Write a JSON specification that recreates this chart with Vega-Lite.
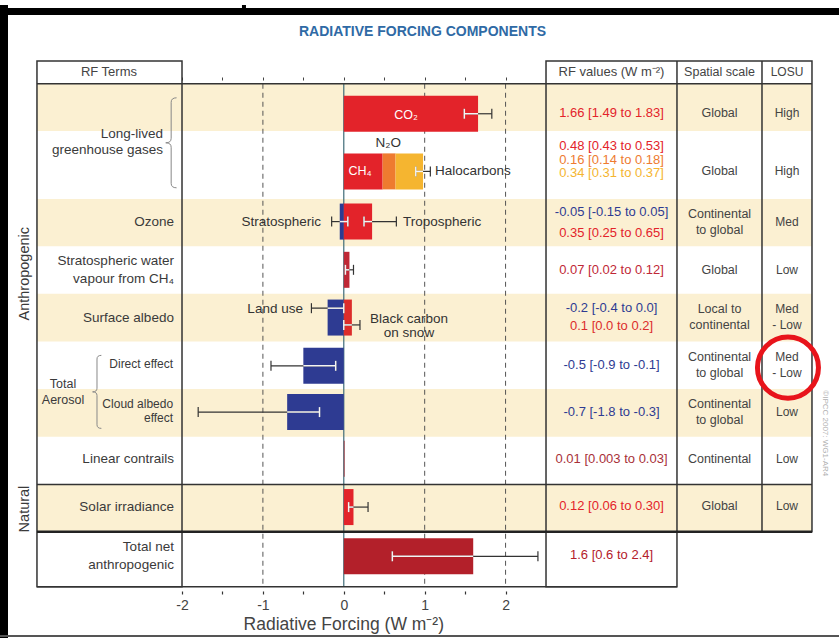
{
"$schema": "https://vega.github.io/schema/vega-lite/v6.json",
"width": 839,
"height": 643,
"autosize": {"type": "fit", "contains": "padding"},
"padding": 0,
"background": "white",
"config": {"view": {"stroke": null}, "text": {"font": "Liberation Sans"}, "axis": {"labelFont": "Liberation Sans"}},
"resolve": {"axis": {"x": "independent"}},
"datasets": {
"bands": [
{"row": "CO2", "top": 0, "bottom": 0.994},
{"row": "Ozone", "top": 2.422, "bottom": 3.416},
{"row": "Surface albedo", "top": 4.418, "bottom": 5.42},
{"row": "Cloud albedo", "top": 6.422, "bottom": 7.424},
{"row": "Solar irradiance", "top": 8.427, "bottom": 9.42}
],
"gridlines": [{"x": -1}, {"x": 1}, {"x": 2}],
"bars": [
{"component": "CO2", "y": 0.631, "start": 0, "end": 1.66},
{"component": "CH4", "y": 1.843, "start": 0, "end": 0.48},
{"component": "N2O", "y": 1.843, "start": 0.48, "end": 0.64},
{"component": "Halocarbons", "y": 1.843, "start": 0.64, "end": 0.98},
{"component": "Ozone strat", "y": 2.899, "start": 0, "end": -0.05},
{"component": "Ozone trop", "y": 2.899, "start": 0, "end": 0.35},
{"component": "Strat H2O", "y": 3.913, "start": 0, "end": 0.07},
{"component": "Land use", "y": 4.917, "start": 0, "end": -0.2},
{"component": "Black carbon", "y": 4.917, "start": 0, "end": 0.1},
{"component": "Aerosol direct", "y": 5.932, "start": 0, "end": -0.5},
{"component": "Aerosol cloud", "y": 6.905, "start": 0, "end": -0.7},
{"component": "Contrails", "y": 7.888, "start": 0, "end": 0.01},
{"component": "Solar", "y": 8.903, "start": 0, "end": 0.12},
{"component": "Net", "y": 9.938, "start": 0, "end": 1.6}
],
"errors": [
{"component": "CO2", "y": 0.631, "value": 1.66, "lo": 1.49, "hi": 1.83},
{"component": "Halocarbons", "y": 1.843, "value": 0.98, "lo": 0.89, "hi": 1.07},
{"component": "Ozone strat", "y": 2.899, "value": -0.05, "lo": -0.15, "hi": 0.05},
{"component": "Ozone trop", "y": 2.899, "value": 0.35, "lo": 0.25, "hi": 0.65},
{"component": "Strat H2O", "y": 3.913, "value": 0.07, "lo": 0.02, "hi": 0.12},
{"component": "Land use", "y": 4.72, "value": -0.2, "lo": -0.4, "hi": 0.0},
{"component": "Black carbon", "y": 5.072, "value": 0.1, "lo": 0.0, "hi": 0.2},
{"component": "Aerosol direct", "y": 5.932, "value": -0.5, "lo": -0.9, "hi": -0.1},
{"component": "Aerosol cloud", "y": 6.905, "value": -0.7, "lo": -1.8, "hi": -0.3},
{"component": "Solar", "y": 8.903, "value": 0.12, "lo": 0.06, "hi": 0.3},
{"component": "Net", "y": 9.938, "value": 1.6, "lo": 0.6, "hi": 2.4}
],
"rfvalues": [
{"text": "1.66 [1.49 to 1.83]", "y": 0.621, "component": "CO2"},
{"text": "0.48 [0.43 to 0.53]", "y": 1.304, "component": "CH4"},
{"text": "0.16 [0.14 to 0.18]", "y": 1.594, "component": "N2O"},
{"text": "0.34 [0.31 to 0.37]", "y": 1.884, "component": "Halocarbons"},
{"text": "-0.05 [-0.15 to 0.05]", "y": 2.692, "component": "Ozone strat"},
{"text": "0.35 [0.25 to 0.65]", "y": 3.147, "component": "Ozone trop"},
{"text": "0.07 [0.02 to 0.12]", "y": 3.913, "component": "Strat H2O"},
{"text": "-0.2 [-0.4 to 0.0]", "y": 4.72, "component": "Land use"},
{"text": "0.1 [0.0 to 0.2]", "y": 5.093, "component": "Black carbon"},
{"text": "-0.5 [-0.9 to -0.1]", "y": 5.921, "component": "Aerosol direct"},
{"text": "-0.7 [-1.8 to -0.3]", "y": 6.894, "component": "Aerosol cloud"},
{"text": "0.01 [0.003 to 0.03]", "y": 7.888, "component": "Contrails"},
{"text": "0.12 [0.06 to 0.30]", "y": 8.882, "component": "Solar"},
{"text": "1.6 [0.6 to 2.4]", "y": 9.917, "component": "Net"}
],
"spatial": [
{"text": "Spatial scale", "y": -0.238},
{"text": "Global", "y": 0.621},
{"text": "Global", "y": 1.843},
{"text": "Continental\nto global", "y": 2.899},
{"text": "Global", "y": 3.913},
{"text": "Local to\ncontinental", "y": 4.907},
{"text": "Continental\nto global", "y": 5.921},
{"text": "Continental\nto global", "y": 6.894},
{"text": "Continental", "y": 7.888},
{"text": "Global", "y": 8.882}
],
"losu": [
{"text": "LOSU", "y": -0.238},
{"text": "High", "y": 0.621},
{"text": "High", "y": 1.843},
{"text": "Med", "y": 2.899},
{"text": "Low", "y": 3.913},
{"text": "Med\n- Low", "y": 4.907},
{"text": "Med\n- Low", "y": 5.921},
{"text": "Low", "y": 6.894},
{"text": "Low", "y": 7.888},
{"text": "Low", "y": 8.882}
],
"terms": [
{"text": "Ozone", "y": 2.899},
{"text": "Stratospheric water\nvapour from CH₄", "y": 3.913},
{"text": "Surface albedo", "y": 4.917},
{"text": "Linear contrails", "y": 7.888},
{"text": "Solar irradiance", "y": 8.903},
{"text": "Total net\nanthropogenic", "y": 9.938}
],
"aerosolTerms": [
{"text": "Direct effect", "y": 5.901},
{"text": "Cloud albedo\neffect", "y": 6.874}
]
},
"layer": [
{"data": {"name": "bands"}, "mark": {"type": "rect", "color": "#fbf0d2"},
 "encoding": {
  "x": {"datum": -3.793, "type": "quantitative", "scale": {"domain": [-4.25, 6.122], "nice": false, "zero": false}, "axis": null},
  "x2": {"datum": 5.788},
  "y": {"field": "top", "type": "quantitative", "scale": {"domain": [-1.6563, 11.6563], "reverse": true, "nice": false, "zero": false}, "axis": null},
  "y2": {"field": "bottom"}}},
{"data": {"name": "gridlines"}, "mark": {"type": "rule", "color": "#555", "strokeWidth": 1, "strokeDash": [5, 4]},
 "encoding": {"x": {"field": "x", "type": "quantitative", "axis": null}, "y": {"datum": 0, "axis": null}, "y2": {"datum": 10.58}}},
{"data": {"values": [{}]}, "mark": {"type": "rule", "color": "#3f6b78", "strokeWidth": 1.2},
 "encoding": {"x": {"datum": 0, "type": "quantitative", "axis": {"orient": "top", "offset": -80, "values": [-2, -1.5, -1, -0.5, 0, 0.5, 1, 1.5, 2], "domain": false, "grid": false, "labels": false, "ticks": true, "tickSize": 3, "tickColor": "#444", "tickWidth": 1, "title": null}},
  "y": {"datum": 0, "axis": null}, "y2": {"datum": 10.58}}},
{"data": {"name": "bars"}, "mark": {"type": "bar", "orient": "horizontal", "size": 36},
 "encoding": {
  "x": {"field": "start", "type": "quantitative", "axis": {"orient": "bottom", "offset": -52, "values": [-2, -1.5, -1, -0.5, 0, 0.5, 1, 1.5, 2], "domain": false, "grid": false, "ticks": true, "tickSize": 3, "tickColor": "#333", "tickWidth": 1.2, "labelExpr": "datum.value % 1 == 0 ? '' + datum.value : ''", "labelFontSize": 14, "labelColor": "#444", "labelPadding": 4, "labelFlush": false, "labelOverlap": false, "title": null}},
  "x2": {"field": "end"},
  "y": {"field": "y", "type": "quantitative", "axis": null},
  "color": {"field": "component", "type": "nominal", "legend": null, "scale": {
    "domain": ["CO2", "CH4", "N2O", "Halocarbons", "Ozone strat", "Ozone trop", "Strat H2O", "Land use", "Black carbon", "Aerosol direct", "Aerosol cloud", "Contrails", "Solar", "Net"],
    "range": ["#e3232a", "#e3232a", "#ee7b30", "#f5b530", "#2e3b92", "#e3232a", "#bf2836", "#2e3b92", "#dc2d2b", "#2e3b92", "#2e3b92", "#a83038", "#e3232a", "#b3202a"]}}}},
{"data": {"name": "errors"}, "mark": {"type": "rule", "color": "#333", "strokeWidth": 1.2},
 "encoding": {"x": {"field": "lo", "type": "quantitative", "axis": null}, "x2": {"field": "hi"}, "y": {"field": "y", "type": "quantitative", "axis": null}}},
{"data": {"name": "errors"}, "mark": {"type": "tick", "orient": "vertical", "size": 10, "thickness": 1.2, "color": "#333", "opacity": 1},
 "encoding": {"x": {"field": "lo", "type": "quantitative", "axis": null}, "y": {"field": "y", "type": "quantitative", "axis": null}}},
{"data": {"name": "errors"}, "mark": {"type": "tick", "orient": "vertical", "size": 10, "thickness": 1.2, "color": "#333", "opacity": 1},
 "encoding": {"x": {"field": "hi", "type": "quantitative", "axis": null}, "y": {"field": "y", "type": "quantitative", "axis": null}}},
{"data": {"name": "errors"}, "transform": [{"filter": "datum.value > 0"}], "mark": {"type": "rule", "color": "#f4f4f4", "strokeWidth": 1.5},
 "encoding": {"x": {"field": "lo", "type": "quantitative", "axis": null}, "x2": {"field": "value"}, "y": {"field": "y", "type": "quantitative", "axis": null}}},
{"data": {"name": "errors"}, "transform": [{"filter": "datum.value < 0"}], "mark": {"type": "rule", "color": "#f4f4f4", "strokeWidth": 1.5},
 "encoding": {"x": {"field": "value", "type": "quantitative", "axis": null}, "x2": {"field": "hi"}, "y": {"field": "y", "type": "quantitative", "axis": null}}},
{"data": {"name": "errors"}, "transform": [{"filter": "datum.value > 0"}], "mark": {"type": "tick", "orient": "vertical", "size": 10, "thickness": 1.5, "color": "#f4f4f4", "opacity": 1},
 "encoding": {"x": {"field": "lo", "type": "quantitative", "axis": null}, "y": {"field": "y", "type": "quantitative", "axis": null}}},
{"data": {"name": "errors"}, "transform": [{"filter": "datum.value < 0"}], "mark": {"type": "tick", "orient": "vertical", "size": 10, "thickness": 1.5, "color": "#f4f4f4", "opacity": 1},
 "encoding": {"x": {"field": "hi", "type": "quantitative", "axis": null}, "y": {"field": "y", "type": "quantitative", "axis": null}}},
{"data": {"values": [{"text": "CO₂", "x": 0.77, "y": 0.65}, {"text": "CH₄", "x": 0.2, "y": 1.843}]},
 "mark": {"type": "text", "color": "white", "fontSize": 12.5},
 "encoding": {"x": {"field": "x", "type": "quantitative", "axis": null}, "y": {"field": "y", "type": "quantitative", "axis": null}, "text": {"field": "text"}}},
{"data": {"values": [{"text": "N₂O", "x": 0.55, "y": 1.242}]},
 "mark": {"type": "text", "color": "#333", "fontSize": 13.5},
 "encoding": {"x": {"field": "x", "type": "quantitative", "axis": null}, "y": {"field": "y", "type": "quantitative", "axis": null}, "text": {"field": "text"}}},
{"data": {"values": [{"text": "Black carbon\non snow", "x": 0.806, "y": 5.093}]},
 "mark": {"type": "text", "color": "#333", "fontSize": 13.5, "lineBreak": "\n", "lineHeight": 14, "dy": -7},
 "encoding": {"x": {"field": "x", "type": "quantitative", "axis": null}, "y": {"field": "y", "type": "quantitative", "axis": null}, "text": {"field": "text"}}},
{"data": {"values": [{"text": "Stratospheric", "x": -0.282, "y": 2.899}, {"text": "Land use", "x": -0.505, "y": 4.741}]},
 "mark": {"type": "text", "color": "#333", "fontSize": 13.5, "align": "right"},
 "encoding": {"x": {"field": "x", "type": "quantitative", "axis": null}, "y": {"field": "y", "type": "quantitative", "axis": null}, "text": {"field": "text"}}},
{"data": {"values": [{"text": "Halocarbons", "x": 1.128, "y": 1.843}, {"text": "Tropospheric", "x": 0.732, "y": 2.899}]},
 "mark": {"type": "text", "color": "#333", "fontSize": 13.5, "align": "left"},
 "encoding": {"x": {"field": "x", "type": "quantitative", "axis": null}, "y": {"field": "y", "type": "quantitative", "axis": null}, "text": {"field": "text"}}},
{"data": {"values": [{}]}, "mark": {"type": "rect", "fill": null, "fillOpacity": 0, "stroke": "#333", "strokeWidth": 1.5},
 "encoding": {"x": {"datum": -3.793, "axis": null}, "x2": {"datum": -2}, "y": {"datum": -0.476, "axis": null}, "y2": {"datum": 10.58}}},
{"data": {"values": [{}]}, "mark": {"type": "rect", "fill": null, "fillOpacity": 0, "stroke": "#333", "strokeWidth": 1.5},
 "encoding": {"x": {"datum": 2.5, "axis": null}, "x2": {"datum": 5.788}, "y": {"datum": -0.476, "axis": null}, "y2": {"datum": 9.42}}},
{"data": {"values": [{}]}, "mark": {"type": "rect", "fill": null, "fillOpacity": 0, "stroke": "#333", "strokeWidth": 1.5},
 "encoding": {"x": {"datum": 2.5, "axis": null}, "x2": {"datum": 4.119}, "y": {"datum": 9.42, "axis": null}, "y2": {"datum": 10.58}}},
{"data": {"values": [{"x": 4.119}, {"x": 5.17}]}, "mark": {"type": "rule", "color": "#333", "strokeWidth": 1.5},
 "encoding": {"x": {"field": "x", "type": "quantitative", "axis": null}, "y": {"datum": -0.476, "axis": null}, "y2": {"datum": 9.42}}},
{"data": {"values": [{}]}, "mark": {"type": "rule", "color": "#333", "strokeWidth": 1.5},
 "encoding": {"x": {"datum": -3.793, "axis": null}, "x2": {"datum": 5.788}, "y": {"datum": 0, "axis": null}}},
{"data": {"values": [{}]}, "mark": {"type": "rule", "color": "#333", "strokeWidth": 1.5},
 "encoding": {"x": {"datum": -3.793, "axis": null}, "x2": {"datum": 5.788}, "y": {"datum": 8.427, "axis": null}}},
{"data": {"values": [{}]}, "mark": {"type": "rule", "color": "#222", "strokeWidth": 2.5},
 "encoding": {"x": {"datum": -3.793, "axis": null}, "x2": {"datum": 5.788}, "y": {"datum": 9.42, "axis": null}}},
{"data": {"values": [{}]}, "mark": {"type": "rule", "color": "#333", "strokeWidth": 1.5},
 "encoding": {"x": {"datum": -3.793, "axis": null}, "x2": {"datum": 4.119}, "y": {"datum": 10.58, "axis": null}}},
{"data": {"values": [{}]}, "mark": {"type": "text", "text": "RF Terms", "color": "#444", "fontSize": 13},
 "encoding": {"x": {"datum": -2.903, "axis": null}, "y": {"datum": -0.238, "axis": null}}},
{"data": {"values": [{}]}, "mark": {"type": "text", "text": "RF values (W m⁻²)", "color": "#444", "fontSize": 13},
 "encoding": {"x": {"datum": 3.31, "axis": null}, "y": {"datum": -0.238, "axis": null}}},
{"data": {"name": "rfvalues"}, "mark": {"type": "text", "fontSize": 13},
 "encoding": {"x": {"datum": 3.31, "axis": null}, "y": {"field": "y", "type": "quantitative", "axis": null}, "text": {"field": "text"}, "color": {"field": "component", "type": "nominal", "legend": null}}},
{"data": {"name": "spatial"}, "transform": [{"filter": "indexof(datum.text, '\\n') < 0"}], "mark": {"type": "text", "fontSize": 12.5, "color": "#444"},
 "encoding": {"x": {"datum": 4.645, "axis": null}, "y": {"field": "y", "type": "quantitative", "axis": null}, "text": {"field": "text"}}},
{"data": {"name": "spatial"}, "transform": [{"filter": "indexof(datum.text, '\\n') >= 0"}], "mark": {"type": "text", "fontSize": 12.5, "color": "#444", "lineBreak": "\n", "lineHeight": 16, "dy": -8},
 "encoding": {"x": {"datum": 4.645, "axis": null}, "y": {"field": "y", "type": "quantitative", "axis": null}, "text": {"field": "text"}}},
{"data": {"name": "losu"}, "transform": [{"filter": "indexof(datum.text, '\\n') < 0"}], "mark": {"type": "text", "fontSize": 12, "color": "#444"},
 "encoding": {"x": {"datum": 5.479, "axis": null}, "y": {"field": "y", "type": "quantitative", "axis": null}, "text": {"field": "text"}}},
{"data": {"name": "losu"}, "transform": [{"filter": "indexof(datum.text, '\\n') >= 0"}], "mark": {"type": "text", "fontSize": 12, "color": "#444", "lineBreak": "\n", "lineHeight": 16, "dy": -8},
 "encoding": {"x": {"datum": 5.479, "axis": null}, "y": {"field": "y", "type": "quantitative", "axis": null}, "text": {"field": "text"}}},
{"data": {"name": "terms"}, "transform": [{"filter": "indexof(datum.text, '\\n') < 0"}], "mark": {"type": "text", "fontSize": 13.5, "color": "#3a3a3a", "align": "right"},
 "encoding": {"x": {"datum": -2.1, "axis": null}, "y": {"field": "y", "type": "quantitative", "axis": null}, "text": {"field": "text"}}},
{"data": {"name": "terms"}, "transform": [{"filter": "indexof(datum.text, '\\n') >= 0"}], "mark": {"type": "text", "fontSize": 13.5, "color": "#3a3a3a", "align": "right", "lineBreak": "\n", "lineHeight": 18, "dy": -9},
 "encoding": {"x": {"datum": -2.1, "axis": null}, "y": {"field": "y", "type": "quantitative", "axis": null}, "text": {"field": "text"}}},
{"data": {"name": "aerosolTerms"}, "transform": [{"filter": "indexof(datum.text, '\\n') < 0"}], "mark": {"type": "text", "fontSize": 12, "color": "#3a3a3a", "align": "right"},
 "encoding": {"x": {"datum": -2.11, "axis": null}, "y": {"field": "y", "type": "quantitative", "axis": null}, "text": {"field": "text"}}},
{"data": {"name": "aerosolTerms"}, "transform": [{"filter": "indexof(datum.text, '\\n') >= 0"}], "mark": {"type": "text", "fontSize": 12, "color": "#3a3a3a", "align": "right", "lineBreak": "\n", "lineHeight": 14, "dy": -7},
 "encoding": {"x": {"datum": -2.11, "axis": null}, "y": {"field": "y", "type": "quantitative", "axis": null}, "text": {"field": "text"}}},
{"data": {"values": [{}]}, "mark": {"type": "text", "text": "Long-lived\ngreenhouse gases", "fontSize": 13.5, "color": "#3a3a3a", "align": "right", "lineBreak": "\n", "lineHeight": 16, "dy": -9},
 "encoding": {"x": {"datum": -2.235, "axis": null}, "y": {"datum": 1.242, "axis": null}}},
{"data": {"values": [{}]}, "mark": {"type": "text", "text": "Total\nAerosol", "fontSize": 12.5, "color": "#3a3a3a", "lineBreak": "\n", "lineHeight": 16, "dy": -8},
 "encoding": {"x": {"datum": -3.471, "axis": null}, "y": {"datum": 6.48, "axis": null}}},
{"data": {"values": [{}]}, "mark": {"type": "point", "shape": "M0.12,-1 Q0,-1 0,-0.9 L0,-0.1 Q0,0 -0.12,0 Q0,0 0,0.1 L0,0.9 Q0,1 0.12,1", "filled": false, "stroke": "#888", "strokeWidth": 1, "size": 8100, "opacity": 1},
 "encoding": {"x": {"datum": -2.134, "axis": null}, "y": {"datum": 1.242, "axis": null}}},
{"data": {"values": [{}]}, "mark": {"type": "point", "shape": "M0.12,-1 Q0,-1 0,-0.9 L0,-0.1 Q0,0 -0.12,0 Q0,0 0,0.1 L0,0.9 Q0,1 0.12,1", "filled": false, "stroke": "#888", "strokeWidth": 1, "size": 5329, "opacity": 1},
 "encoding": {"x": {"datum": -3.051, "axis": null}, "y": {"datum": 6.48, "axis": null}}},
{"data": {"values": [{"text": "Anthropogenic", "y": 3.996}, {"text": "Natural", "y": 8.944}]}, "mark": {"type": "text", "angle": 270, "fontSize": 14.5, "color": "#3a3a3a"},
 "encoding": {"x": {"datum": -3.941, "axis": null}, "y": {"field": "y", "type": "quantitative", "axis": null}, "text": {"field": "text"}}},
{"data": {"values": [{}]}, "mark": {"type": "text", "text": "RADIATIVE FORCING COMPONENTS", "fontSize": 14, "fontWeight": "bold", "color": "#2f6aa5"},
 "encoding": {"x": {"datum": 0.973, "axis": null}, "y": {"datum": -1.097, "axis": null}}},
{"data": {"values": [{}]}, "mark": {"type": "text", "text": "Radiative Forcing  (W m⁻²)", "fontSize": 17.5, "color": "#444"},
 "encoding": {"x": {"datum": 0, "axis": null}, "y": {"datum": 11.38, "axis": null}}},
{"data": {"values": [{}]}, "mark": {"type": "text", "text": "©IPCC 2007: WG1-AR4", "angle": 90, "fontSize": 8, "color": "#b0b0b0"},
 "encoding": {"x": {"datum": 5.949, "axis": null}, "y": {"datum": 7.35, "axis": null}}},
{"data": {"values": [{}]}, "mark": {"type": "rule", "color": "black", "strokeWidth": 16, "clip": true},
 "encoding": {"x": {"datum": -4.25, "axis": null}, "y": {"datum": -1.6563, "axis": null}, "y2": {"datum": 11.6563}}},
{"data": {"values": [{}]}, "mark": {"type": "rule", "color": "black", "strokeWidth": 7, "clip": true},
 "encoding": {"x": {"datum": -4.25, "axis": null}, "x2": {"datum": 6.122}, "y": {"datum": -1.5217, "axis": null}}},
{"data": {"values": [{}]}, "mark": {"type": "rule", "color": "black", "strokeWidth": 4, "clip": true},
 "encoding": {"x": {"datum": -1.234, "axis": null}, "y": {"datum": -1.6563, "axis": null}, "y2": {"datum": -1.52}}},
{"data": {"values": [{}]}, "mark": {"type": "rule", "color": "#555", "strokeWidth": 2, "clip": true},
 "encoding": {"x": {"datum": -4.25, "axis": null}, "x2": {"datum": 6.122}, "y": {"datum": 11.615, "axis": null}}},
{"data": {"values": [{}]}, "mark": {"type": "point", "shape": "circle", "filled": false, "stroke": "#e8141b", "strokeWidth": 5, "size": 3721, "opacity": 1},
 "encoding": {"x": {"datum": 5.491, "axis": null}, "y": {"datum": 5.97, "axis": null}}}
]
}
